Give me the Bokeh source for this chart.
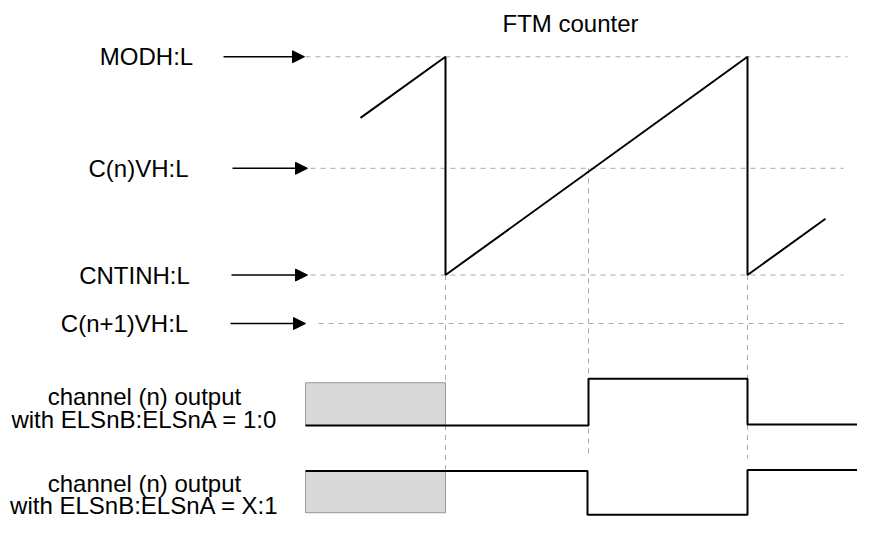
from bokeh.plotting import figure
from bokeh.models import Range1d, ColumnDataSource, Arrow, NormalHead
from bokeh.core.properties import value
from bokeh.embed import file_html
from bokeh.resources import INLINE

# ---- data (diagram units) ----
level_names = ["MODH:L", "C(n)VH:L", "CNTINH:L", "C(n+1)VH:L"]
level_y = [58, 173, 283, 333]
level_label_x = [146, 138, 134, 124]
arrow_x0 = [223, 232, 231, 230]
arrow_x1 = [304, 307, 307, 305]
guide_x0 = [305, 310, 310, 318]
guide_x1 = [847, 843, 843, 848]

counter_x = [360, 445, 445, 747, 747, 825]
counter_y = [121, 58, 283, 58, 283, 225]

event_x = [445, 588, 747]
event_y_top = [283, 173, 283]
event_y_bottom = [483, 470, 472]

out1_x = [305, 588, 588, 747, 747, 873]
out1_y = [438, 438, 390, 390, 437, 437]
out2_x = [305, 587, 587, 747, 747, 873]
out2_y = [485, 485, 530, 530, 484, 484]

box_left = [305, 305]
box_right = [445, 445]
box_top = [394, 485]
box_bottom = [438, 528]

chan_lines = ["channel (n) output", "with ELSnB:ELSnA = 1:0",
              "channel (n) output", "with ELSnB:ELSnA = X:1"]
chan_x = [144, 144, 144, 144]
chan_y = [408, 432, 498, 521]

title_text = ["FTM counter"]
title_x = [570]
title_y = [24]

FONT = value("Liberation Sans")
FSIZE = value("24px")

p = figure(width=857, height=519, x_range=Range1d(0, 857), y_range=Range1d(535, 0),
           output_backend="svg", toolbar_location=None, min_border=0)
p.axis.visible = False
p.grid.visible = False
p.outline_line_color = None
p.background_fill_color = "white"
p.border_fill_color = "white"

# dashed guides
p.segment(x0=guide_x0, y0=level_y, x1=guide_x1, y1=level_y,
          line_color="#aaaaaa", line_width=1, line_dash="5 5")
p.segment(x0=event_x, y0=event_y_top, x1=event_x, y1=event_y_bottom,
          line_color="#aaaaaa", line_width=1, line_dash="5 5")

# grey undefined boxes
p.quad(left=box_left, right=box_right, top=box_top, bottom=box_bottom,
       fill_color="#d9d9d9", line_color="#999999", line_width=1)

# counter sawtooth
p.line(counter_x, counter_y, line_color="black", line_width=2)

# outputs
p.line(out1_x, out1_y, line_color="black", line_width=2)
p.line(out2_x, out2_y, line_color="black", line_width=2)

# arrows
for x0, x1, y in zip(arrow_x0, arrow_x1, level_y):
    p.add_layout(Arrow(end=NormalHead(size=12, fill_color="black", line_color="black"),
                       x_start=x0, y_start=y, x_end=x1, y_end=y,
                       line_color="black", line_width=1.5))

# labels
lab_src = ColumnDataSource(dict(x=level_label_x, y=level_y, t=level_names))
p.text(x="x", y="y", text="t", source=lab_src, text_font=FONT, text_font_size=FSIZE,
       text_align="center", text_baseline="middle", text_color="black")

ch_src = ColumnDataSource(dict(x=chan_x, y=chan_y, t=chan_lines))
p.text(x="x", y="y", text="t", source=ch_src, text_font=FONT, text_font_size=FSIZE,
       text_align="center", text_baseline="middle", text_color="black")

tt_src = ColumnDataSource(dict(x=title_x, y=title_y, t=title_text))
p.text(x="x", y="y", text="t", source=tt_src, text_font=FONT, text_font_size=FSIZE,
       text_align="center", text_baseline="middle", text_color="black")

open("out.html", "w").write(file_html(p, INLINE))
